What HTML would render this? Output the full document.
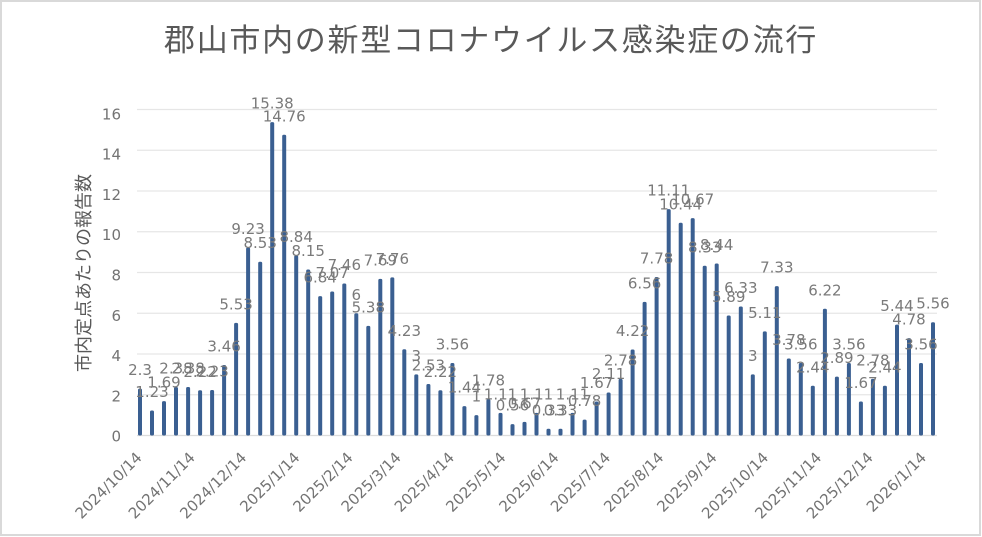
<!DOCTYPE html>
<html><head><meta charset="utf-8">
<style>
html,body{margin:0;padding:0;background:#fff;}
svg{display:block;}
.d{font-family:"DejaVu Sans","Liberation Sans",sans-serif;font-size:15px;fill:#7a7a7a;text-anchor:middle;}
.ax{font-family:"DejaVu Sans","Liberation Sans",sans-serif;font-size:15px;fill:#737373;}
.jp{font-family:"Liberation Sans","Noto Sans CJK JP",sans-serif;fill:#595959;}
</style></head><body>
<svg width="982" height="537" viewBox="0 0 982 537" xmlns="http://www.w3.org/2000/svg">
<rect x="0" y="0" width="982" height="537" fill="#fff"/>
<rect x="1" y="1" width="979" height="534" fill="none" stroke="#d9d9d9" stroke-width="2"/>
<text class="jp" x="491" y="51" text-anchor="middle" font-size="31" letter-spacing="1.7">郡山市内の新型コロナウイルス感染症の流行</text>
<g stroke="#e6e6e6" stroke-width="1.2">
<line x1="137" x2="937" y1="109.5" y2="109.5"/>
<line x1="137" x2="937" y1="150.25" y2="150.25"/>
<line x1="137" x2="937" y1="191" y2="191"/>
<line x1="137" x2="937" y1="231.75" y2="231.75"/>
<line x1="137" x2="937" y1="272.5" y2="272.5"/>
<line x1="137" x2="937" y1="313.25" y2="313.25"/>
<line x1="137" x2="937" y1="354" y2="354"/>
<line x1="137" x2="937" y1="394.75" y2="394.75"/>
<line x1="137" x2="937" y1="435.5" y2="435.5" stroke="#dcdcdc"/>
</g>
<g class="ax" text-anchor="end">
<text x="121" y="441.7">0</text>
<text x="121" y="401.4">2</text>
<text x="121" y="361.1">4</text>
<text x="121" y="320.8">6</text>
<text x="121" y="280.5">8</text>
<text x="121" y="240.2">10</text>
<text x="121" y="199.9">12</text>
<text x="121" y="159.6">14</text>
<text x="121" y="119.3">16</text>
</g>
<text class="jp" transform="translate(84,273) rotate(-90)" text-anchor="middle" dominant-baseline="central" font-size="18">市内定点あたりの報告数</text>
<g fill="#3a5f91">
<rect x="138" y="388.64" width="4" height="46.86" rx="1.5"/>
<rect x="150" y="410.44" width="4" height="25.06" rx="1.5"/>
<rect x="162" y="401.07" width="4" height="34.43" rx="1.5"/>
<rect x="174" y="387.01" width="4" height="48.49" rx="1.5"/>
<rect x="186.1" y="387.01" width="4" height="48.49" rx="1.5"/>
<rect x="198.1" y="390.27" width="4" height="45.23" rx="1.5"/>
<rect x="210.1" y="390.06" width="4" height="45.44" rx="1.5"/>
<rect x="222.1" y="365" width="4" height="70.5" rx="1.5"/>
<rect x="234.1" y="322.83" width="4" height="112.67" rx="1.5"/>
<rect x="246.1" y="247.44" width="4" height="188.06" rx="1.5"/>
<rect x="258.2" y="261.7" width="4" height="173.8" rx="1.5"/>
<rect x="270.2" y="122.13" width="4" height="313.37" rx="1.5"/>
<rect x="282.2" y="134.76" width="4" height="300.74" rx="1.5"/>
<rect x="294.2" y="255.38" width="4" height="180.12" rx="1.5"/>
<rect x="306.2" y="269.44" width="4" height="166.06" rx="1.5"/>
<rect x="318.2" y="296.13" width="4" height="139.37" rx="1.5"/>
<rect x="330.2" y="291.45" width="4" height="144.05" rx="1.5"/>
<rect x="342.3" y="283.5" width="4" height="152" rx="1.5"/>
<rect x="354.3" y="313.25" width="4" height="122.25" rx="1.5"/>
<rect x="366.3" y="325.88" width="4" height="109.62" rx="1.5"/>
<rect x="378.3" y="278.82" width="4" height="156.68" rx="1.5"/>
<rect x="390.3" y="277.39" width="4" height="158.11" rx="1.5"/>
<rect x="402.3" y="349.31" width="4" height="86.19" rx="1.5"/>
<rect x="414.3" y="374.37" width="4" height="61.13" rx="1.5"/>
<rect x="426.4" y="383.95" width="4" height="51.55" rx="1.5"/>
<rect x="438.4" y="390.27" width="4" height="45.23" rx="1.5"/>
<rect x="450.4" y="362.96" width="4" height="72.54" rx="1.5"/>
<rect x="462.4" y="406.16" width="4" height="29.34" rx="1.5"/>
<rect x="474.4" y="415.13" width="4" height="20.37" rx="1.5"/>
<rect x="486.4" y="399.23" width="4" height="36.27" rx="1.5"/>
<rect x="498.5" y="412.88" width="4" height="22.62" rx="1.5"/>
<rect x="510.5" y="424.09" width="4" height="11.41" rx="1.5"/>
<rect x="522.5" y="421.85" width="4" height="13.65" rx="1.5"/>
<rect x="534.5" y="412.88" width="4" height="22.62" rx="1.5"/>
<rect x="546.5" y="428.78" width="4" height="6.72" rx="1.5"/>
<rect x="558.5" y="428.78" width="4" height="6.72" rx="1.5"/>
<rect x="570.5" y="412.88" width="4" height="22.62" rx="1.5"/>
<rect x="582.6" y="419.61" width="4" height="15.89" rx="1.5"/>
<rect x="594.6" y="401.47" width="4" height="34.03" rx="1.5"/>
<rect x="606.6" y="392.51" width="4" height="42.99" rx="1.5"/>
<rect x="618.6" y="378.86" width="4" height="56.64" rx="1.5"/>
<rect x="630.6" y="349.52" width="4" height="85.98" rx="1.5"/>
<rect x="642.6" y="301.84" width="4" height="133.66" rx="1.5"/>
<rect x="654.6" y="276.98" width="4" height="158.52" rx="1.5"/>
<rect x="666.7" y="209.13" width="4" height="226.37" rx="1.5"/>
<rect x="678.7" y="222.78" width="4" height="212.72" rx="1.5"/>
<rect x="690.7" y="218.1" width="4" height="217.4" rx="1.5"/>
<rect x="702.7" y="265.78" width="4" height="169.72" rx="1.5"/>
<rect x="714.7" y="263.53" width="4" height="171.97" rx="1.5"/>
<rect x="726.7" y="315.49" width="4" height="120.01" rx="1.5"/>
<rect x="738.8" y="306.53" width="4" height="128.97" rx="1.5"/>
<rect x="750.8" y="374.37" width="4" height="61.13" rx="1.5"/>
<rect x="762.8" y="331.38" width="4" height="104.12" rx="1.5"/>
<rect x="774.8" y="286.15" width="4" height="149.35" rx="1.5"/>
<rect x="786.8" y="358.48" width="4" height="77.02" rx="1.5"/>
<rect x="798.8" y="362.96" width="4" height="72.54" rx="1.5"/>
<rect x="810.8" y="385.78" width="4" height="49.72" rx="1.5"/>
<rect x="822.9" y="308.77" width="4" height="126.73" rx="1.5"/>
<rect x="834.9" y="376.62" width="4" height="58.88" rx="1.5"/>
<rect x="846.9" y="362.96" width="4" height="72.54" rx="1.5"/>
<rect x="858.9" y="401.47" width="4" height="34.03" rx="1.5"/>
<rect x="870.9" y="378.86" width="4" height="56.64" rx="1.5"/>
<rect x="882.9" y="385.78" width="4" height="49.72" rx="1.5"/>
<rect x="895" y="324.66" width="4" height="110.84" rx="1.5"/>
<rect x="907" y="338.11" width="4" height="97.39" rx="1.5"/>
<rect x="919" y="362.96" width="4" height="72.54" rx="1.5"/>
<rect x="931" y="322.21" width="4" height="113.29" rx="1.5"/>
</g>
<g class="d">
<text x="140" y="375.1">2.3</text>
<text x="152" y="396.9">1.23</text>
<text x="164" y="387.6">1.69</text>
<text x="176" y="373.5">2.38</text>
<text x="188.1" y="373.5">2.38</text>
<text x="200.1" y="376.8">2.22</text>
<text x="212.1" y="376.6">2.23</text>
<text x="224.1" y="351.5">3.46</text>
<text x="236.1" y="309.3">5.53</text>
<text x="248.1" y="233.9">9.23</text>
<text x="260.2" y="248.2">8.53</text>
<text x="272.2" y="108.6">15.38</text>
<text x="284.2" y="121.3">14.76</text>
<text x="296.2" y="241.9">8.84</text>
<text x="308.2" y="255.9">8.15</text>
<text x="320.2" y="282.6">6.84</text>
<text x="332.2" y="278">7.07</text>
<text x="344.3" y="270">7.46</text>
<text x="356.3" y="299.8">6</text>
<text x="368.3" y="312.4">5.38</text>
<text x="380.3" y="265.3">7.69</text>
<text x="392.3" y="263.9">7.76</text>
<text x="404.3" y="335.8">4.23</text>
<text x="416.3" y="360.9">3</text>
<text x="428.4" y="370.5">2.53</text>
<text x="440.4" y="376.8">2.22</text>
<text x="452.4" y="349.5">3.56</text>
<text x="464.4" y="392.7">1.44</text>
<text x="476.4" y="401.6">1</text>
<text x="488.4" y="385.7">1.78</text>
<text x="500.5" y="399.4">1.11</text>
<text x="512.5" y="410.6">0.56</text>
<text x="524.5" y="408.4">0.67</text>
<text x="536.5" y="399.4">1.11</text>
<text x="548.5" y="415.3">0.33</text>
<text x="560.5" y="415.3">0.33</text>
<text x="572.5" y="399.4">1.11</text>
<text x="584.6" y="406.1">0.78</text>
<text x="596.6" y="388">1.67</text>
<text x="608.6" y="379">2.11</text>
<text x="620.6" y="365.4">2.78</text>
<text x="632.6" y="336">4.22</text>
<text x="644.6" y="288.3">6.56</text>
<text x="656.6" y="263.5">7.78</text>
<text x="668.7" y="195.6">11.11</text>
<text x="680.7" y="209.3">10.44</text>
<text x="692.7" y="204.6">10.67</text>
<text x="704.7" y="252.3">8.33</text>
<text x="716.7" y="250">8.44</text>
<text x="728.7" y="302">5.89</text>
<text x="740.8" y="293">6.33</text>
<text x="752.8" y="360.9">3</text>
<text x="764.8" y="317.9">5.11</text>
<text x="776.8" y="272.7">7.33</text>
<text x="788.8" y="345">3.78</text>
<text x="800.8" y="349.5">3.56</text>
<text x="812.8" y="372.3">2.44</text>
<text x="824.9" y="295.3">6.22</text>
<text x="836.9" y="363.1">2.89</text>
<text x="848.9" y="349.5">3.56</text>
<text x="860.9" y="388">1.67</text>
<text x="872.9" y="365.4">2.78</text>
<text x="884.9" y="372.3">2.44</text>
<text x="897" y="311.2">5.44</text>
<text x="909" y="324.6">4.78</text>
<text x="921" y="349.5">3.56</text>
<text x="933" y="308.7">5.56</text>
</g>
<g class="ax" text-anchor="end">
<text transform="translate(142.7,458.5) rotate(-45)">2024/10/14</text>
<text transform="translate(195.9,458.5) rotate(-45)">2024/11/14</text>
<text transform="translate(247.4,458.5) rotate(-45)">2024/12/14</text>
<text transform="translate(300.6,458.5) rotate(-45)">2025/1/14</text>
<text transform="translate(353.8,458.5) rotate(-45)">2025/2/14</text>
<text transform="translate(401.9,458.5) rotate(-45)">2025/3/14</text>
<text transform="translate(455.1,458.5) rotate(-45)">2025/4/14</text>
<text transform="translate(506.6,458.5) rotate(-45)">2025/5/14</text>
<text transform="translate(559.8,458.5) rotate(-45)">2025/6/14</text>
<text transform="translate(611.3,458.5) rotate(-45)">2025/7/14</text>
<text transform="translate(664.5,458.5) rotate(-45)">2025/8/14</text>
<text transform="translate(717.7,458.5) rotate(-45)">2025/9/14</text>
<text transform="translate(769.2,458.5) rotate(-45)">2025/10/14</text>
<text transform="translate(822.4,458.5) rotate(-45)">2025/11/14</text>
<text transform="translate(873.9,458.5) rotate(-45)">2025/12/14</text>
<text transform="translate(927.1,458.5) rotate(-45)">2026/1/14</text>
</g>
</svg>
</body></html>
